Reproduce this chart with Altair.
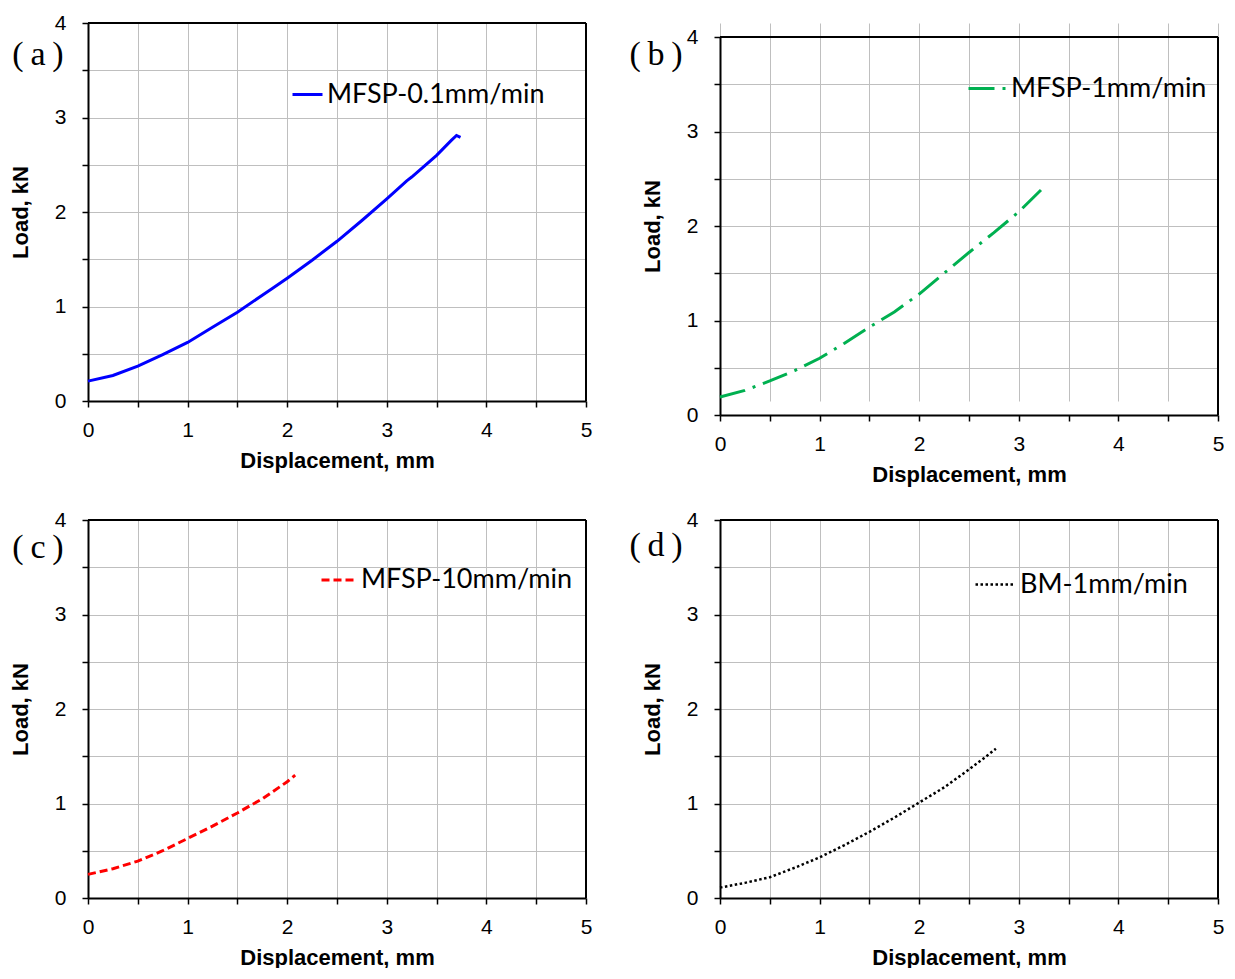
import altair as alt
import pandas as pd

# ---------------- data ----------------
# (a) MFSP-0.1mm/min
a_x = [0.0, 0.25, 0.5, 0.75, 1.0, 1.25, 1.5, 1.75, 1.85, 2.0, 2.25, 2.5, 2.75, 3.0, 3.2, 3.25, 3.5, 3.65, 3.70, 3.74]
a_y = [0.21, 0.27, 0.37, 0.49, 0.62, 0.78, 0.94, 1.12, 1.19, 1.30, 1.49, 1.69, 1.91, 2.14, 2.33, 2.37, 2.60, 2.76, 2.81, 2.79]

# (b) MFSP-1mm/min
b_x = [0.0, 0.25, 0.5, 0.75, 1.0, 1.25, 1.5, 1.75, 2.0, 2.25, 2.5, 2.75, 3.0, 3.27]
b_y = [0.19, 0.26, 0.36, 0.47, 0.60, 0.76, 0.93, 1.09, 1.28, 1.50, 1.72, 1.93, 2.15, 2.43]

# (c) MFSP-10mm/min
c_x = [0.0, 0.25, 0.5, 0.75, 1.0, 1.25, 1.5, 1.75, 2.0, 2.08]
c_y = [0.25, 0.31, 0.39, 0.50, 0.63, 0.76, 0.90, 1.05, 1.23, 1.30]

# (d) BM-1mm/min
d_x = [0.0, 0.25, 0.5, 0.75, 1.0, 1.25, 1.5, 1.75, 2.0, 2.25, 2.5, 2.65, 2.77]
d_y = [0.11, 0.16, 0.22, 0.32, 0.43, 0.56, 0.70, 0.85, 1.01, 1.17, 1.36, 1.48, 1.58]

series_names = ["MFSP-0.1mm/min", "MFSP-1mm/min", "MFSP-10mm/min", "BM-1mm/min"]
panel_labels = ["(\u2009a\u2009)", "(\u2009b\u2009)", "(\u2009c\u2009)", "(\u2009d\u2009)"]
x_ticks = [0, 0.5, 1, 1.5, 2, 2.5, 3, 3.5, 4, 4.5, 5]
y_ticks = [0, 0.5, 1, 1.5, 2, 2.5, 3, 3.5, 4]
x_domain = [0, 5]
y_domain = [0, 4]

W, H = 498, 378
LAB = "datum.value % 1 == 0 ? format(datum.value, 'd') : ''"


def panel(xs, ys, name, color, dash, sw, label, leg_x, leg_y, sym_len, lab_x, lab_y, top_off=0):
    df = pd.DataFrame({"x": xs, "y": ys, "series": [name] * len(xs)})
    x_axis = alt.Axis(values=x_ticks, labelExpr=LAB, title="Displacement, mm")
    y_axis = alt.Axis(values=y_ticks, labelExpr=LAB, title="Load, kN")
    x_scale = alt.Scale(domain=x_domain, nice=False)
    if top_off:
        y_scale = alt.Scale(domain=y_domain, nice=False, range=[H + top_off, top_off])
    else:
        y_scale = alt.Scale(domain=y_domain, nice=False)

    mark_kw = dict(strokeWidth=sw)
    if dash:
        mark_kw["strokeDash"] = dash
    legend_kw = dict(
        orient="none", legendX=leg_x, legendY=leg_y + top_off, title=None,
        symbolType="stroke", symbolStrokeWidth=sw, symbolSize=sym_len * sym_len,
        labelFont="Lato", labelFontSize=27, labelColor="black", labelOffset=3,
        labelLimit=400, padding=0,
    )
    if dash:
        legend_kw["symbolDash"] = dash

    line = alt.Chart(df).mark_line(**mark_kw).encode(
        x=alt.X("x:Q", scale=x_scale, axis=x_axis),
        y=alt.Y("y:Q", scale=y_scale, axis=y_axis),
        color=alt.Color("series:N", scale=alt.Scale(domain=[name], range=[color]),
                        legend=alt.Legend(**legend_kw)),
    )
    one = pd.DataFrame({"k": [0]})
    # top and right edges of the black plot frame (left/bottom are the axis lines)
    top_edge = alt.Chart(one).mark_rule(color="black", strokeWidth=2).encode(
        y=alt.Y(datum=y_domain[1], scale=y_scale, axis=y_axis)
    )
    right_edge = alt.Chart(one).mark_rule(color="black", strokeWidth=2).encode(
        x=alt.X(datum=x_domain[1], scale=x_scale, axis=x_axis),
        y=alt.Y(datum=y_domain[0], scale=y_scale, axis=y_axis),
        y2=alt.datum(y_domain[1]),
    )
    txt = alt.Chart(pd.DataFrame({"t": [label]})).mark_text(
        font="Liberation Serif", fontSize=34, align="center", baseline="middle", color="black"
    ).encode(x=alt.value(lab_x), y=alt.value(lab_y + top_off), text="t:N")
    return alt.layer(line, top_edge, right_edge, txt).properties(width=W, height=H + top_off)


pa = panel(a_x, a_y, series_names[0], "#0000ff", None, 3, panel_labels[0], 203, 55, 30, -50, 32)
pb = panel(b_x, b_y, series_names[1], "#00b050", [26, 8, 3, 8], 3, panel_labels[1], 247, 31, 38, -64, 18,
           top_off=14)
pc = panel(c_x, c_y, series_names[2], "#ff0000", [8, 4], 3, panel_labels[2], 232, 41, 35, -50, 28)
pd_ = panel(d_x, d_y, series_names[3], "#000000", [2.5, 2.5], 2.5, panel_labels[3], 254, 43, 40, -64, 26)

col_a = alt.vconcat(pa, pc, spacing=38).resolve_scale(color="independent")
col_b = alt.vconcat(pb, pd_, spacing=24).resolve_scale(color="independent")

chart = (
    alt.hconcat(col_a, col_b, spacing=37)
    .resolve_scale(color="independent")
    .properties(padding={"left": 1, "top": 4, "right": 0, "bottom": 0})
    .configure_view(strokeWidth=0)
    .configure_axis(
        grid=True, gridColor="#bfbfbf", gridWidth=1,
        domainColor="black", domainWidth=2,
        tickColor="black", tickSize=6, tickWidth=1.5,
        labelFont="Liberation Sans", labelFontSize=21, labelColor="black",
        labelFlush=False, labelOverlap=False, labelBound=False,
        titleFont="Liberation Sans", titleFontSize=22, titleFontWeight="bold", titleColor="black",
    )
    .configure_axisX(labelPadding=12, titlePadding=10)
    .configure_axisY(labelPadding=16, titlePadding=22)
)

chart.save("out.html", embed_options={"renderer": "svg", "actions": False})
